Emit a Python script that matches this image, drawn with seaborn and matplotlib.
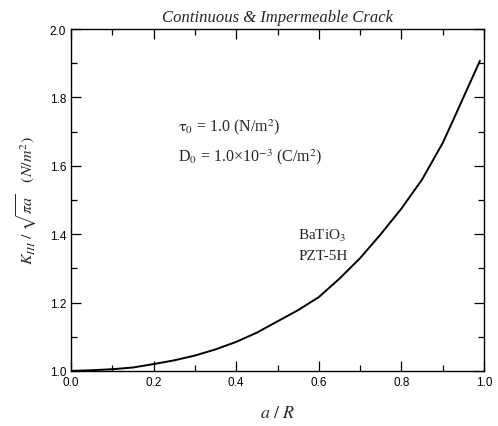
import numpy as np
import pandas as pd
import matplotlib
matplotlib.use("Agg")
import matplotlib.pyplot as plt
from matplotlib.ticker import MultipleLocator, FormatStrFormatter
import seaborn as sns

# values (a/R vs normalised K_III)
a_over_R = [0.0, 0.05, 0.1, 0.15, 0.2, 0.25, 0.3, 0.35, 0.4, 0.45, 0.5,
            0.55, 0.6, 0.65, 0.7, 0.75, 0.8, 0.85, 0.9, 0.925, 0.95, 0.975, 0.99]
k_norm = [1.0, 1.002, 1.005, 1.01, 1.02, 1.031, 1.045, 1.063, 1.085, 1.112, 1.145,
          1.178, 1.216, 1.27, 1.33, 1.40, 1.475, 1.56, 1.667, 1.733, 1.80, 1.867, 1.907]

df = pd.DataFrame({"a/R": a_over_R, "K": k_norm})

sns.set_theme(style="ticks")
plt.rcParams["font.family"] = ["Liberation Sans", "DejaVu Sans"]
plt.rcParams["mathtext.fontset"] = "stix"

fig = plt.figure(figsize=(4.98, 4.27), dpi=100)
ax = fig.add_axes([0.1426, 0.129, 0.8294, 0.8006])

sns.lineplot(data=df, x="a/R", y="K", ax=ax, color="black", linewidth=1.4)

ax.set_xlim(0, 1.0)
ax.set_ylim(1.0, 2.0)
ax.xaxis.set_major_locator(MultipleLocator(0.2))
ax.xaxis.set_minor_locator(MultipleLocator(0.1))
ax.yaxis.set_major_locator(MultipleLocator(0.2))
ax.yaxis.set_minor_locator(MultipleLocator(0.1))
ax.tick_params(which="both", direction="in", top=True, right=True,
               colors="black", labelsize=8.5, width=0.9)
ax.tick_params(which="major", length=7)
ax.tick_params(which="minor", length=4)
ax.xaxis.set_major_formatter(FormatStrFormatter("%.1f"))
ax.yaxis.set_major_formatter(FormatStrFormatter("%.1f"))
for s in ax.spines.values():
    s.set_color("black")
    s.set_linewidth(1.0)

serif = ["Liberation Serif", "DejaVu Serif"]
ax.set_title("Continuous & Impermeable Crack", fontsize=12, style="italic",
             family=serif, pad=6)
ax.set_xlabel("$a\\ /\\ R$", fontsize=13, labelpad=12)
ax.set_ylabel("$K_{III}\\ /\\ \\sqrt{\\pi a}$   $(N/m^2)$", fontsize=11.5, labelpad=8)

ax.text(0.259, 0.716, "$\\mathrm{\\tau_0}$ = 1.0 (N/m$^2$)", transform=ax.transAxes,
        fontsize=11.5, family=serif, va="center")
ax.text(0.259, 0.629, "D$_0$ = 1.0\u00d710$^{-3}$ (C/m$^2$)", transform=ax.transAxes,
        fontsize=11.5, family=serif, va="center")
ax.text(0.55, 0.398, "BaTiO$_3$", transform=ax.transAxes,
        fontsize=11, family=serif, va="center")
ax.text(0.55, 0.339, "PZT-5H", transform=ax.transAxes,
        fontsize=11, family=serif, va="center")

fig.savefig("out.png", dpi=100)
